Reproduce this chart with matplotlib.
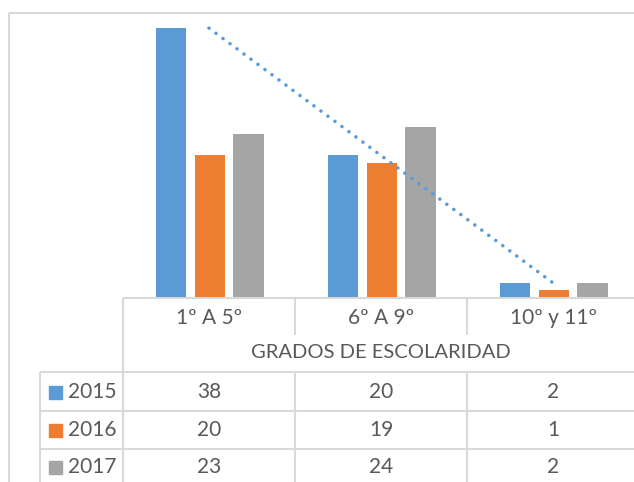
import numpy as np
import matplotlib

matplotlib.use("Agg")
import matplotlib.pyplot as plt
from matplotlib.patches import Rectangle
from matplotlib.transforms import blended_transform_factory

CATEGORIES = ["1º A 5º", "6º A 9º", "10º y 11º"]
AXIS_TITLE = "GRADOS DE ESCOLARIDAD"
SERIES_NAMES = ["2015", "2016", "2017"]
VALUES_2015 = [38, 20, 2]
VALUES_2016 = [20, 19, 1]
VALUES_2017 = [23, 24, 2]
COLORS = ["#5B9BD5", "#ED7D31", "#A5A5A5"]

TEXT = "#595959"
GRID = "#D9D9D9"
FS = 15

plt.rcParams["font.family"] = ["Lato", "DejaVu Sans"]

W, H = 634, 482
fig = plt.figure(figsize=(W / 100, H / 100), dpi=100)

# overlay in pixel units for the data table and chart frame
px = fig.add_axes([0, 0, 1, 1])
px.set_xlim(0, W)
px.set_ylim(H, 0)
px.axis("off")

ax = fig.add_axes([123 / W, (H - 297) / H, (639 - 123) / W, 283 / H])
ax.set_xlim(-0.5, len(CATEGORIES) - 0.5)
ax.set_ylim(0, 40)
ax.axis("off")

x = np.arange(len(CATEGORIES))
series = [VALUES_2015, VALUES_2016, VALUES_2017]
for i, (vals, color) in enumerate(zip(series, COLORS)):
    ax.bar(x + 0.005 + (i - 1) * 0.226, vals, width=0.178, color=color)

# linear trendline of 2015
slope, icpt = np.polyfit(x, VALUES_2015, 1)
ends = x[[0, -1]]
ax.plot(ends, slope * ends + icpt, color=COLORS[0], lw=2.6,
        linestyle=(0, (0.01, 2.4)), dash_capstyle="round", clip_on=False)

tr = blended_transform_factory(ax.transData, px.transData)
edges = np.arange(len(CATEGORIES) + 1) - 0.5
kw = dict(color=GRID, lw=1.5, solid_capstyle="butt")

# chart frame
px.plot([9, 9], [13, H], **kw)
px.plot([9, W], [13, 13], **kw)

# table grid
px.plot([edges[0], edges[-1]], [298, 298], transform=tr, **kw)
px.plot([edges[0], edges[0]], [298, H], transform=tr, **kw)
for e in edges[1:-1]:
    px.plot([e, e], [298, 335], transform=tr, **kw)
    px.plot([e, e], [372, H], transform=tr, **kw)
for y in [372, 411, 449]:
    px.plot([40, W], [y, y], **kw)
px.plot([40, 40], [372, H], **kw)

for xi, cat in zip(x, CATEGORIES):
    px.text(xi, 318, cat, transform=tr, ha="center", va="center",
            fontsize=FS, color=TEXT)
px.text(np.mean(x), 353, AXIS_TITLE, transform=tr, ha="center", va="center",
        fontsize=FS - 0.5, color=TEXT)

row_y = [392, 430, 467]
for ry, name, vals, color in zip(row_y, SERIES_NAMES, series, COLORS):
    px.add_patch(Rectangle((49, ry - 6), 13, 13, color=color))
    px.text(68, ry, name, ha="left", va="center", fontsize=FS, color=TEXT)
    for xi, v in zip(x, vals):
        px.text(xi, ry, str(v), transform=tr, ha="center", va="center",
                fontsize=FS, color=TEXT)

fig.savefig("out.png", dpi=100)
